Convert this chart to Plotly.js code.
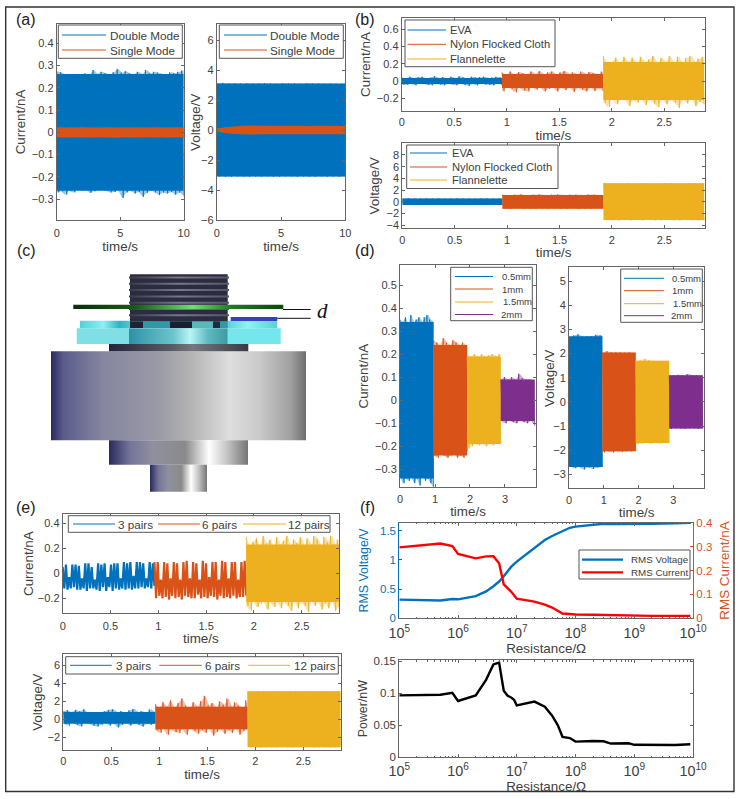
<!DOCTYPE html>
<html>
<head>
<meta charset="utf-8">
<script src="https://cdn.plot.ly/plotly-3.0.1.min.js"></script>
<style>html,body{margin:0;padding:0;background:#fff}</style>
</head>
<body>
<div id="chart" style="width:740px;height:799px"></div>
<script>
const BLUE = '#0072BD', ORANGE = '#D95319', YELLOW = '#EDB120', PURPLE = '#7E2F8E', RED = '#FF0000';
const FONT = '"Liberation Sans", Arial, sans-serif', INK = '#404040';

// peak values, alternating upper and lower swing
const aCurDouble = [.275,-.27,.27,-.265,.262,-.28,.258,-.262,.255,-.27,.26,-.258,.254,-.262,.265,-.255,.258,-.272,.28,-.265,.262,-.26,.272,-.258,.266,-.262,.26,-.27,.27,-.268,.285,-.26,.268,-.295,.275,-.27,.265,-.262,.262,-.275,.272,-.268,.262,-.29,.28,-.272,.265,-.26,.272,-.27,.268,-.282,.262,-.27,.26,-.275,.27,-.268,.266,-.28,.272,-.27,.278,-.285];
const aCurSingle = [.024,-.022,.023,-.024,.022,-.023,.025,-.022,.023,-.024,.022,-.022,.024,-.023,.022,-.025,.023,-.022,.024,-.023,.022,-.024,.023,-.022,.025,-.023,.022,-.024,.023,-.022,.024,-.023];
const aVolDouble = [3.12,-3.1,3.14,-3.12,3.1,-3.12,3.12,-3.1,3.1,-3.11,3.12,-3.12,3.1,-3.1,3.11,-3.12,3.12,-3.1,3.1,-3.11,3.1,-3.12,3.12,-3.1,3.1,-3.1,3.11,-3.12,3.1,-3.1,3.12,-3.11,3.1,-3.12,3.1,-3.1,3.09,-3.11,3.1,-3.1,3.09,-3.12,3.08,-3.1];
const aVolSingle = [.1,-.1,.18,-.2,.24,-.26,.29,-.28,.3,-.3,.29,-.29,.28,-.29,.28,-.28,.29,-.28,.28,-.29,.28,-.28,.27,-.28,.28,-.29,.28,-.28,.27,-.28,.28,-.28];

const bCurEva = [.045,-.04,.03,-.045,.05,-.03,.035,-.05,.045,-.035,.05,-.03,.03,-.045,.04,-.05,.055,-.03,.035,-.04,.045,-.05,.03,-.035,.05,-.04,.035,-.05,.055,-.03,.04,-.045,.03,-.055,.05,-.035,.04,-.05,.045,-.03,.05,-.04,.035,-.045,.04,-.05,.05,-.03,.04,-.045];
const bCurNylon = [.1,-.12,.07,-.07,.11,-.09,.075,-.13,.105,-.075,.09,-.11,.075,-.12,.11,-.07,.08,-.1,.115,-.075,.075,-.12,.1,-.09,.11,-.075,.075,-.12,.1,-.08,.115,-.105,.08,-.075,.1,-.125,.075,-.08,.11,-.1,.08,-.12,.105,-.075,.09,-.115,.075,-.085,.11,-.12];
const bCurFlan = [.29,-.25,.2,-.3,.22,-.2,.27,-.27,.2,-.22,.28,-.2,.22,-.29,.27,-.22,.2,-.25,.28,-.2,.22,-.28,.25,-.21,.29,-.26,.2,-.3,.27,-.2,.22,-.27,.29,-.22,.2,-.25,.28,-.31,.21,-.21,.27,-.26,.29,-.2,.22,-.29,.26,-.24,.28,-.27];
const bVolEva = [.55,-.55,.58,-.56,.55,-.58,.56,-.55,.58,-.56,.55,-.55,.57,-.58,.55,-.56,.56,-.55,.58,-.56,.55,-.58,.56,-.55,.55,-.56,.58,-.55,.56,-.57,.55,-.56,.56,-.55];
const bVolNylon = [1.2,-1.2,1.15,-1.25,1.2,-1.15,1.25,-1.2,1.15,-1.2,1.2,-1.25,1.25,-1.15,1.15,-1.2,1.2,-1.2,1.25,-1.25,1.15,-1.2,1.2,-1.15,1.2,-1.25,1.15,-1.2,1.25,-1.2,1.2,-1.15,1.15,-1.2];
const bVolFlan = [3.2,-3.15,3.2,-3.2,3.15,-3.2,3.2,-3.15,3.2,-3.2,3.15,-3.15,3.2,-3.2,3.2,-3.15,3.15,-3.2,3.2,-3.2,3.2,-3.15,3.15,-3.2,3.2,-3.2,3.15,-3.15,3.2,-3.2,3.2,-3.2,3.15,-3.2];

const dCur05 = [.35,-.33,.34,-.36,.36,-.34,.33,-.35,.37,-.33,.34,-.36,.35,-.34,.36,-.37,.34,-.32,.36,-.35,.37,-.34,.35,-.36,.34,-.38];
const dCur1 = [.26,-.24,.25,-.25,.24,-.23,.27,-.24,.25,-.25,.24,-.24,.26,-.23,.25,-.25,.24,-.24,.25,-.25,.23,-.22];
const dCur15 = [.195,-.21,.19,-.2,.2,-.19,.19,-.195,.2,-.19,.19,-.2,.195,-.19,.2,-.195,.19,-.185,.2,-.19];
const dCur2 = [.09,-.09,.1,-.1,.09,-.09,.1,-.095,.09,-.1,.115,-.09,.095,-.095,.09,-.1,.09,-.09,.085,-.11];
const dVol05 = [2.65,-2.65,2.75,-2.75,2.8,-2.7,2.7,-2.8,2.72,-2.72,2.72,-2.78,2.78,-2.72,2.75,-2.7];
const dVol1 = [2.05,-2.1,2.1,-2.05,2.05,-2.1,2.05,-2.05,2.05,-2.08,2.04,-2.05,2.05,-2.05,2.03,-2.02];
const dVol15 = [1.7,-1.75,1.72,-1.72,1.78,-1.7,1.72,-1.72,1.7,-1.7,1.7,-1.72,1.7,-1.7,1.7,-1.7];
const dVol2 = [1.1,-1.12,1.1,-1.1,1.12,-1.1,1.1,-1.12,1.15,-1.1,1.1,-1.1,1.1,-1.12,1.08,-1.1];

const eCur3 = [.05,-.12,.07,-.13,-.03,-.12,.07,-.11,.07,-.13,.06,-.13,-.04,-.12,.08,-.14,.08,-.12,.05,-.12,-.05,-.13,.08,-.14,.07,-.11,.08,-.14,-.03,-.11,.07,-.14,.08,-.12,.08,-.13,-.04,-.12,.09,-.13,.08,-.12,.09,-.13,-.02,-.12,.09,-.12,.09,-.11,.08,-.12,-.04,-.11,.09,-.12,.08,-.1];
const eCur6 = [.09,-.2,.09,-.18,-.05,-.2,.09,-.19,.08,-.21,-.04,-.18,.09,-.2,.08,-.19,-.05,-.21,.09,-.18,.1,-.19,-.04,-.2,.09,-.2,.08,-.17,-.05,-.2,.1,-.19,.08,-.2,-.03,-.18,.09,-.19,.09,-.21,-.05,-.18,.1,-.2,.09,-.19,-.04,-.2,.09,-.18,.09,-.2,-.05,-.19,.09,-.19,.1,-.18];
const eCur12 = [.29,-.26,.22,-.3,.25,-.22,.28,-.27,.22,-.24,.3,-.22,.24,-.29,.27,-.23,.22,-.27,.29,-.22,.23,-.28,.26,-.23,.3,-.26,.22,-.3,.27,-.22,.24,-.28,.29,-.23,.22,-.26,.28,-.31,.23,-.22,.3,-.26,.27,-.23,.22,-.29,.29,-.24,.25,-.28,.3,-.22,.23,-.3,.27,-.27];
const eVol3 = [.9,-.5,1,-.7,.8,-.3,1.05,-.6,.9,-.8,1.1,-.4,.7,-.5,.6,-.7,.5,-.8,.7,-.6,.9,-.4,1.05,-.7,1.1,-.5,.8,-.9,.9,-.6,.7,-.4,1,-.7,1.15,-.5,.8,-.6,.9,-.8,.7,-.5,1.1,-.6,.8,-.4];
const eVol6 = [1.7,-1.2,1.2,-1.5,1.9,-1,1.4,-1.7,2.1,-1.1,1.3,-1.4,1.8,-1.5,2.3,-1.1,1.5,-1.7,1.2,-1,1.9,-1.3,1.4,-1.6,2,-1.2,2.6,-1.5,1.5,-1,1.8,-1.8,1.3,-1.4,2,-1.1,1.6,-1.6,2.3,-1.2,1.4,-1.5,1.9,-1,1.5,-1.7,1.2,-1.3,2.1,-1.1];
const eVol12 = [3.1,-3.1,3.12,-3.08,3.1,-3.12,3.14,-3.1,3.1,-3.1,3.12,-3.12,3.1,-3.08,3.12,-3.1,3.1,-3.12,3.14,-3.1,3.1,-3.1,3.12,-3.08,3.1,-3.12,3.12,-3.1,3.1,-3.1,3.12,-3.12,3.1,-3.1,3.1,-3.1];

const aLabels = ['Double Mode', 'Single Mode'];
const bLabels = ['EVA', 'Nylon Flocked Cloth', 'Flannelette'];
const dLabels = ['0.5mm', '1mm', '1.5mm', '2mm'];
const eLabels = ['3 pairs', '6 pairs', '12 pairs'];
const fLabels = ['RMS Voltage', 'RMS Current'];
const bEdges = [0, .955, 1.92, 2.88];
const dEdges = [0, .96, 1.92, 2.88, 3.85];
const eEdges = [0, .96, 1.92, 2.89];

const fR = [1e5,2e5,3e5,5e5,8e5,1e6,2e6,3e6,4e6,5e6,6e6,8e6,1e7,2e7,3e7,4e7,6e7,8e7,1e8,2e8,3e8,5e8,8e8,1e9,2e9,5e9,9e9];
const fVoltage = [.32,.315,.31,.305,.33,.325,.38,.46,.55,.63,.72,.88,.97,1.2,1.34,1.41,1.5,1.55,1.57,1.6,1.62,1.615,1.62,1.62,1.62,1.625,1.635];
const fCurrent = [.297,.303,.307,.313,.302,.269,.251,.259,.26,.23,.142,.112,.082,.07,.057,.045,.02,.018,.016,.015,.014,.011,.011,.01,.01,.01,.01];
const pR = [1e5,5e5,8e5,1e6,2e6,3e6,4e6,5e6,6e6,7e6,8e6,9e6,1e7,2e7,3e7,4e7,5e7,6e7,8e7,1e8,2e8,3e8,4e8,8e8,1e9,2e9,5e9,9e9];
const fPower = [.0967,.0977,.1009,.088,.0967,.121,.145,.148,.104,.096,.0935,.09,.081,.087,.079,.065,.05,.032,.03,.0245,.0255,.025,.0215,.022,.0195,.0195,.0192,.0205];

// page pixels to paper fractions
const pxX = v => v / 740;
const pxY = v => 1 - v / 799;
const px = (a, b) => [pxX(a), pxX(b)];
const py = (top, bottom) => [pxY(bottom), pxY(top)];

let traces = [];
let layout = {
  width: 740, height: 799,
  margin: {l: 0, r: 0, t: 0, b: 0},
  paper_bgcolor: '#fff', plot_bgcolor: '#fff',
  font: {family: FONT, size: 11, color: INK},
  hovermode: false, showlegend: false,
  shapes: [], annotations: [],
};

function addAxes(n, xDomain, yDomain, xRange, yRange, xTicks, yTicks, yTitle, standoff, tickGap, titleGap) {
  const common = {
    showgrid: false, zeroline: false, linecolor: '#666', linewidth: 1,
    ticks: 'inside', ticklen: 3, tickcolor: '#666', mirror: 'ticks',
    tickfont: {size: 11, color: INK}, fixedrange: true,
  };
  const suffix = n == 1 ? '' : n;
  layout['xaxis' + suffix] = {...common, domain: xDomain, range: xRange, tickvals: xTicks, ticklabelstandoff: tickGap,
    anchor: 'y' + suffix, title: {text: 'time/s', font: {size: 13.4, color: INK}, standoff: titleGap}};
  layout['yaxis' + suffix] = {...common, domain: yDomain, range: yRange, tickvals: yTicks,
    anchor: 'x' + suffix, title: {text: yTitle, font: {size: 13.4, color: INK}, standoff: standoff}};
}

// title placed by hand where plotly's standoff cannot come close enough
function sideTitle(text, x, y) {
  layout.annotations.push({text: text, xref: 'paper', yref: 'paper', x: pxX(x), y: pxY(y), textangle: -90,
    xanchor: 'center', yanchor: 'middle', showarrow: false, font: {size: 13.4, color: INK}});
}

// the level that about 70% of the peaks reach
function coreLevel(values, sign) {
  const sorted = values.map(v => v * sign).sort((a, b) => a - b);
  return sorted[Math.floor(sorted.length * .3)] * sign;
}

// filled outline through the upper and lower peaks
function band(n, t0, t1, peaks, color, opacity) {
  const upper = peaks.filter((_, i) => i % 2 == 0);
  const lower = peaks.filter((_, i) => i % 2 == 1).reverse();
  const at = (k, count) => t0 + (t1 - t0) * k / (count - 1);
  traces.push({
    x: upper.map((_, k) => at(k, upper.length)).concat(lower.map((_, k) => at(lower.length - 1 - k, lower.length))),
    y: upper.concat(lower), mode: 'none', fill: 'toself', fillcolor: color, opacity: opacity,
    xaxis: 'x' + n, yaxis: 'y' + n,
  });
}

// stroke through every peak in turn
function swing(n, t0, t1, peaks, color, width, opacity) {
  traces.push({x: peaks.map((_, i) => t0 + (t1 - t0) * i / (peaks.length - 1)), y: peaks, mode: 'lines', opacity: opacity,
    line: {color: color, width: width, simplify: false}, xaxis: 'x' + n, yaxis: 'y' + n});
}

// one dense burst: pale fringe out to the peaks, solid core, thin spikes
function wave(n, t0, t1, peaks, color) {
  const hi = coreLevel(peaks.filter((_, i) => i % 2 == 0), 1);
  const lo = coreLevel(peaks.filter((_, i) => i % 2 == 1), -1);
  band(n, t0, t1, peaks, color, .4);
  traces.push({x: [t0, t1, t1, t0, t0], y: [hi, hi, lo, lo, hi], mode: 'none', fill: 'toself', fillcolor: color,
    xaxis: 'x' + n, yaxis: 'y' + n});
  swing(n, t0, t1, peaks, color, .9, .85);
}

// MATLAB style legend: a boxed list of thin samples, plotly's own rows are too tall here
function legendBox(box, labels, colors, rows, fontSize, lineWidth) {
  layout.shapes.push({type: 'rect', xref: 'paper', yref: 'paper', x0: pxX(box[0]), x1: pxX(box[2]),
    y0: pxY(box[1]), y1: pxY(box[3]), fillcolor: '#fff', line: {color: '#555', width: 1}});
  labels.forEach((label, i) => {
    const r = rows[i];
    layout.shapes.push({type: 'line', xref: 'paper', yref: 'paper', x0: pxX(r[0]), x1: pxX(r[1]),
      y0: pxY(r[3]), y1: pxY(r[3]), line: {color: colors[i], width: lineWidth}});
    layout.annotations.push({text: label, xref: 'paper', yref: 'paper', x: pxX(r[2]), y: pxY(r[3]),
      xanchor: 'left', yanchor: 'middle', showarrow: false, borderpad: 0, font: {size: fontSize, color: INK}});
  });
}

// (a)
addAxes('', px(56.7, 183.7), py(24, 220), [0, 10], [-.394, .487], [0, 5, 10], [-.3, -.2, -.1, 0, .1, .2, .3, .4], 'Current/nA', 3, 3, 0);
wave('', 0, 10, aCurDouble, BLUE);
wave('', 0, 10, aCurSingle, ORANGE);
legendBox([58.3, 25, 182.3, 58.3], aLabels, [BLUE, ORANGE], [[62, 106, 108.5, 35], [62, 106, 108.5, 50]], 11.7, 1);
addAxes(2, px(216.7, 345.3), py(24, 220), [0, 10], [-6, 7.07], [0, 5, 10], [-6, -4, -2, 0, 2, 4, 6], '', 0, 3, 0);
sideTitle('Voltage/V', 195, 122);
wave(2, 0, 10, aVolDouble, BLUE);
band(2, 0, 10, aVolSingle, ORANGE, 1);
legendBox([219.3, 25, 343.3, 58.3], aLabels, [BLUE, ORANGE], [[224, 267, 269.3, 35], [224, 267, 269.3, 50]], 11.7, 1);

// (b)
const halfTicks = [0, .5, 1, 1.5, 2, 2.5];
addAxes(3, px(401.7, 705), py(18.3, 110.7), [0, 2.888], [-.344, .727], halfTicks, [-.2, 0, .2, .4, .6], 'Current/nA', 3, 1, 0);
[bCurEva, bCurNylon, bCurFlan].forEach((p, i) => wave(3, bEdges[i], bEdges[i + 1], p, [BLUE, ORANGE, YELLOW][i]));
legendBox([405, 20, 555, 66.7], bLabels, [BLUE, ORANGE, YELLOW], [[407.5, 446, 449, 30], [407.5, 446, 449, 44.3], [407.5, 446, 449, 59]], 11.2, 1);
addAxes(4, px(402.3, 705), py(143.3, 228.3), [0, 2.888], [-4.56, 10], halfTicks, [-4, -2, 0, 2, 4, 6, 8], 'Voltage/V', 3, 1, 0);
[bVolEva, bVolNylon, bVolFlan].forEach((p, i) => wave(4, bEdges[i], bEdges[i + 1], p, [BLUE, ORANGE, YELLOW][i]));
legendBox([406.7, 145, 558, 188.5], bLabels, [BLUE, ORANGE, YELLOW], [[410, 447, 451, 153], [410, 447, 451, 167], [410, 447, 451, 180]], 11.2, 1);

// (d)
const dTicks = [0, 1, 2, 3];
const dColors = [BLUE, ORANGE, YELLOW, PURPLE];
addAxes(5, px(400, 536), py(265, 487.3), [0, 3.886], [-.378, .587], dTicks, [-.3, -.2, -.1, 0, .1, .2, .3, .4, .5], 'Current/nA', 3, 1, 1);
[dCur05, dCur1, dCur15, dCur2].forEach((p, i) => wave(5, dEdges[i], dEdges[i + 1], p, dColors[i]));
legendBox([450.7, 267.3, 532.3, 320.7], dLabels, dColors, [[455, 493, 500.5, 276.5], [455, 493, 500.5, 289], [455, 493, 501.5, 302], [455, 493, 500, 314.5]], 9.5, 1);
addAxes(6, px(569, 704.3), py(266.7, 488.3), [0, 3.89], [-3.58, 5.6], dTicks, [-3, -2, -1, 0, 1, 2, 3, 4, 5], '', 0, 1, 1);
sideTitle('Voltage/V', 549, 379);
[dVol05, dVol1, dVol15, dVol2].forEach((p, i) => wave(6, dEdges[i], dEdges[i + 1], p, dColors[i]));
legendBox([620.7, 269, 702.3, 322.3], dLabels, dColors, [[624, 664, 670.7, 278.3], [624, 664, 670.7, 290.7], [624, 664, 671.5, 303.7], [624, 664, 670, 315.7]], 9.5, 1);

// (e), the slower bursts keep the gaps between their swings
addAxes(7, px(62.7, 339), py(514, 613.3), [0, 2.89], [-.32, .475], halfTicks, [-.2, 0, .2, .4], 'Current/nA', 1, 2, 1);
swing(7, eEdges[0], eEdges[1], eCur3, BLUE, 2.2, 1);
swing(7, eEdges[1], eEdges[2], eCur6, ORANGE, 2.2, 1);
wave(7, eEdges[2], eEdges[3], eCur12, YELLOW);
legendBox([68.3, 515.7, 330, 532.3], eLabels, [BLUE, ORANGE, YELLOW], [[73, 115, 116.7, 524], [158, 200, 201.3, 524], [243, 286, 287.3, 524]], 11.7, 1);
addAxes(8, px(63.3, 340.7), py(654.3, 750), [0, 2.89], [-3.4, 7.2], halfTicks, [-2, 0, 2, 4, 6], 'Voltage/V', 1, 1, 1);
[eVol3, eVol6, eVol12].forEach((p, i) => wave(8, eEdges[i], eEdges[i + 1], p, [BLUE, ORANGE, YELLOW][i]));
legendBox([65.7, 656.7, 338.3, 674], eLabels, [BLUE, ORANGE, YELLOW], [[70, 111.7, 115, 665.3], [159.3, 201.7, 204, 665.3], [248.3, 290, 293.3, 665.3]], 11.7, 1);

// (f)
function logAxis(n, tickGap, standoff) {
  layout['xaxis' + n] = {
    type: 'log', domain: px(399.3, 693), range: [5, 10], dtick: 1, exponentformat: 'power',
    anchor: 'y' + n, showgrid: false, zeroline: false, linecolor: '#666', mirror: 'ticks',
    ticks: 'inside', ticklen: 3, tickcolor: '#666', fixedrange: true, ticklabelstandoff: tickGap,
    minor: {ticks: 'inside', ticklen: 1.5, tickcolor: '#666', dtick: 'D1', showgrid: false},
    tickfont: {size: 11.5, color: INK},
    title: {text: 'Resistance/Ω', font: {size: 13.4, color: INK}, standoff: standoff},
  };
}
logAxis(9, 2, 2);
layout.yaxis9 = {
  domain: py(522.7, 618.3), range: [0, 1.637], tickvals: [0, .5, 1, 1.5], anchor: 'x9',
  showgrid: false, zeroline: false, linecolor: BLUE, ticks: 'inside', ticklen: 3, tickcolor: BLUE,
  tickfont: {size: 11.5, color: BLUE}, fixedrange: true,
  title: {text: 'RMS Voltage/V', font: {size: 12.4, color: BLUE}, standoff: 8},
};
layout.yaxis10 = {
  domain: py(522.7, 618.3), range: [0, .4], tickvals: [0, .1, .2, .3, .4], anchor: 'x9',
  overlaying: 'y9', side: 'right', showgrid: false, zeroline: false, linecolor: ORANGE,
  ticks: 'inside', ticklen: 3, tickcolor: ORANGE, tickfont: {size: 11.5, color: ORANGE}, fixedrange: true,
  title: {text: 'RMS Current/nA', font: {size: 13.4, color: ORANGE}, standoff: 7},
};
traces.push({x: fR, y: fVoltage, mode: 'lines', line: {color: BLUE, width: 2.4}, xaxis: 'x9', yaxis: 'y9'});
traces.push({x: fR, y: fCurrent, mode: 'lines', line: {color: RED, width: 2.4}, xaxis: 'x9', yaxis: 'y10'});
legendBox([579, 550, 690, 579], fLabels, [BLUE, RED], [[582, 623, 630.3, 559.7], [582, 623, 630.3, 572.3]], 9.8, 2.2);

logAxis(11, 1, 0);
layout.yaxis11 = {
  domain: py(660, 757.3), range: [0, .152], tickvals: [0, .05, .1, .15], ticktext: ['0', '0.05', '0.1', '0.15'], anchor: 'x11',
  showgrid: false, zeroline: false, linecolor: '#666', mirror: 'ticks', ticks: 'inside', ticklen: 3, tickcolor: '#666',
  tickfont: {size: 11.5, color: INK}, fixedrange: true,
  title: {text: 'Power/nW', font: {size: 12.4, color: INK}, standoff: 3},
};
traces.push({x: pR, y: fPower, mode: 'lines', line: {color: '#000', width: 2.4}, xaxis: 'x11', yaxis: 'y11'});

// (c) the device drawing, on an axis pair that runs in page pixels
layout.xaxis12 = {domain: px(40, 340), range: [40, 340], visible: false, fixedrange: true, anchor: 'y12'};
layout.yaxis12 = {domain: py(262, 498), range: [498, 262], visible: false, fixedrange: true, anchor: 'x12'};

function block(x0, y0, x1, y1, colors) {
  const t = {x: [x0, x1, x1, x0, x0], y: [y0, y0, y1, y1, y0], mode: 'none', fill: 'toself',
    xaxis: 'x12', yaxis: 'y12', hoverinfo: 'skip'};
  if (typeof colors == 'string') t.fillcolor = colors;
  else t.fillgradient = {type: 'horizontal', colorscale: colors};
  traces.push(t);
}
const bodySteel = [[0,'#2a2a62'],[.05,'#5c5c8c'],[.2,'#85859f'],[.42,'#9a9aa6'],[.55,'#b4b4b4'],[.7,'#dedede'],[.82,'#c9c9c9'],[.94,'#a0a0a0'],[1,'#6e6e6e']];
const lowerSteel = [[0,'#2a2a5c'],[.15,'#74749a'],[.32,'#90909e'],[.55,'#8a8a8a'],[.72,'#ffffff'],[.85,'#c4c4c4'],[1,'#757575']];
const teal = [[0,'#2f8fa6'],[.2,'#4aa9b8'],[.45,'#6cc4cc'],[.62,'#b8f6f6'],[.8,'#5fb9c0'],[1,'#3c9aa0']];
const topCyan = [[0,'#55d0d8'],[.12,'#8cf0f4'],[.2,'#2fb4c2'],[.3,'#66dbe0'],[.5,'#3fb8c4'],[.7,'#44c0cc'],[.85,'#8cf4f8'],[1,'#5ccfd6']];
const greenPlate = [[0,'#0b2d0b'],[.3,'#145f14'],[.57,'#6fe06f'],[.75,'#1c7f1c'],[1,'#0a4a0a']];

block(51, 351.3, 306, 440.3, bodySteel);
block(109, 440.3, 248, 464.7, lowerSteel);
block(150, 464.7, 207, 491.7, lowerSteel);
block(109, 344, 248.3, 351.3, [[0,'#24243a'],[.45,'#5a5a66'],[.6,'#77777f'],[1,'#3a3a44']]);
block(76.7, 328.3, 129, 344, '#7fdfe4');
block(227.7, 328.3, 280.7, 344, '#75e6ec');
block(129, 328.3, 227.7, 344, teal);
block(80, 320.7, 277, 328.3, topCyan);

// threaded stud with its lighter ridges
block(130, 274.3, 227.7, 321.5, '#2c2c40');
const threadRows = [276.5, 282.8, 289.1, 295.4, 301.7, 308, 314.3];
for (const y of threadRows) {
  block(129, y, 229, y + 2, [[0,'#3a3a4c'],[.5,'#77788a'],[1,'#56566a']]);
}
block(130, 321.5, 143, 328, '#1f2233');
block(143, 321.5, 170, 328, '#2f9aa4');
block(170, 321.5, 192, 328, '#1a1f30');
block(192, 321.5, 213, 328, '#57b9b9');
block(213, 321.5, 220, 328, '#1f2a3a');
block(220, 321.5, 227.7, 328, '#2f9aa4');

block(73.3, 304.7, 283.3, 309, greenPlate);
block(230.7, 317, 277.3, 321, '#3d3dc4');
layout.shapes.push(
  {type: 'line', xref: 'x12', yref: 'y12', x0: 283, x1: 310.7, y0: 309.5, y1: 309.5, line: {color: '#111', width: 1}},
  {type: 'line', xref: 'x12', yref: 'y12', x0: 277.3, x1: 310.7, y0: 318.3, y1: 318.3, line: {color: '#111', width: 1}},
  {type: 'rect', xref: 'paper', yref: 'paper', x0: pxX(5.7), x1: pxX(734), y0: pxY(791.5), y1: pxY(7),
    line: {color: '#333', width: 1.4}}
);
layout.annotations.push({text: '<i>d</i>', xref: 'paper', yref: 'paper', x: pxX(322), y: pxY(311), showarrow: false,
  xanchor: 'center', yanchor: 'middle', font: {family: '"Liberation Serif", serif', size: 21, color: '#111'}});

// panel letters
const panelLabels = ['(a)', '(b)', '(c)', '(d)', '(e)', '(f)'];
const panelX = [26, 365, 26, 365, 26, 367];
const panelY = [20, 20, 251, 251, 507, 507];
panelLabels.forEach((t, i) => layout.annotations.push({
  text: t, xref: 'paper', yref: 'paper', x: pxX(panelX[i]), y: pxY(panelY[i]), showarrow: false,
  xanchor: 'center', yanchor: 'middle', font: {size: 16, color: '#222'},
}));

Plotly.newPlot('chart', traces, layout, {displayModeBar: false, staticPlot: true});
</script>
</body>
</html>
